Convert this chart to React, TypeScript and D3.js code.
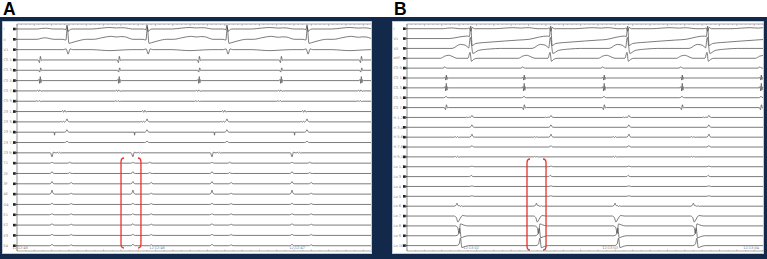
import React from "react";
import * as d3 from "d3";

// ---------------- DATA ----------------
// Channel labels
const A_LABELS = ["I", "II", "V1", "CS 1,2", "CS 3,4", "CS 5,6", "CS 7,8", "CS 9,10", "23 1,2", "23 3,4", "23 5,6", "23 7,8", "23 9,10", "T1", "2E", "3F", "4E", "D4", "E1", "E2", "E3", "E4"];
const B_LABELS = ["I", "V1", "V5", "aVF", "CS 9,10", "CS 1,2", "CS 3,4", "CS 5,6", "CS 7,8", "H 1,2", "H 3,4", "H 5,6", "H 7,8", "H 9,10", "Lo 1,2", "Lo 3", "Lo 4", "Lo 5", "Lo 6", "Lo 7", "Lo 8", "Lo 9", "Lo 10"];

// Event times (ms from start of window)
const A_QRS = [361, 939, 1516, 2094];
const A_ATRIAL = [166, 736, 1314, 1906, 2484];
const A_FAR = [253, 837, 1408, 1986];
const B_QRS = [454, 1030, 1584, 2160];
const B_ATRIAL = [281, 842, 1418, 1980, 2549];
const B_HIS = [468, 1037, 1598, 2174];
const B_LOCAL = [360, 932, 1498, 2062];

// Time stamps
const A_STAMP_MS = [22, 1011, 2022];
const A_STAMP_TXT = ["12:12:45", "12:12:46", "12:12:47"];
const B_STAMP_MS = [461, 1462, 2477];
const B_STAMP_TXT = ["12:13:02", "12:13:03", "12:13:04"];

// Highlighted windows (ms) [start, end]
const A_HIGHLIGHT = [751, 895];
const B_HIGHLIGHT = [864, 1001];

// Waveform templates: [offset ms, mV]
const TPL_QRS_I_A = [[-30, 0], [-8, -0.1], [0, 0.8], [8, -0.5], [18, -0.2], [35, 0]];
const TPL_QRS_II_A = [[-30, 0], [-8, -0.15], [2, 2.4], [14, -0.8], [30, -0.7], [80, -0.3], [140, 0]];
const TPL_QRS_V1_A = [[-25, 0], [-6, 0.15], [8, -0.9], [22, 0.15], [40, 0]];
const TPL_QRS_I_B = [[-20, 0], [-5, 0.15], [5, -0.5], [15, 0.25], [30, 0]];
const TPL_QRS_V1_B = [[-150, 0], [-80, 0.3], [-20, 0.5], [-5, 0.4], [5, 2.5], [15, -1.4], [40, -1.0], [150, -0.7], [350, -0.3], [500, 0]];
const TPL_QRS_V5_B = [[-130, 0], [-70, 0.8], [-30, 0.6], [-10, 0.1], [2, 2.2], [12, 0.4], [20, -1.0], [60, -0.4], [150, -0.1], [220, 0]];
const TPL_QRS_AVF_B = [[-15, 0], [0, 1], [10, -0.5], [25, -0.2], [50, 0]];
const TPL_T = [[0, 0], [70, 0.6], [130, 1], [190, 0.6], [280, 0]];
const TPL_P = [[0, 0], [30, 0.7], [60, 1], [90, 0.5], [120, 0]];
const TPL_ATR_BI = [[-12, 0], [-4, -0.6], [3, 0.8], [10, -0.1], [18, 0]];
const TPL_ATR_SHARP = [[-14, 0], [-7, 0.3], [-2, -0.7], [2, 1], [7, -0.5], [11, 0.2], [18, 0]];
const TPL_WIGGLE = [[-20, 0], [-12, 0.4], [-4, -0.3], [4, 0.5], [12, -0.2], [22, 0]];
const TPL_BUMP = [[-18, 0], [-6, 0.4], [0, 1], [6, 0.3], [18, 0]];
const TPL_VDOWN = [[-12, 0], [0, -1], [10, 0.2], [22, 0]];
const TPL_TICK = [[-3, 0], [0, -1], [3, 0]];
const TPL_RV_A = [[-20, 0], [-5, -0.3], [6, -1.2], [20, -0.6], [40, 0.1], [70, 0]];
const TPL_RV_B = [[-20, 0], [0, -0.3], [10, -1.5], [20, 0.4], [40, 0.2], [70, 0]];
const TPL_RV_C = [[-20, 0], [0, 0.3], [10, 1.5], [20, -0.4], [40, -0.2], [70, 0]];

// ---------------- CHANNEL TABLES (built from the arrays above) ----------------
type Ev = { tpl: number[][]; times: number[]; amp: number; shift?: number };
const ev = (tpl: number[][], times: number[], amp: number, shift = 0): Ev => ({ tpl, times, amp, shift });

const A_CHANNELS: Ev[][] = [
  [ev(TPL_QRS_I_A, A_QRS, 1), ev(TPL_T, A_QRS, 0.3, 180), ev(TPL_P, A_ATRIAL, 0.15, -20)],
  [ev(TPL_QRS_II_A, A_QRS, 1), ev(TPL_T, A_QRS, 0.6, 190), ev(TPL_P, A_ATRIAL, 0.3, -20)],
  [ev(TPL_QRS_V1_A, A_QRS, 1), ev(TPL_T, A_QRS, -0.2, 180)],
  [ev(TPL_ATR_BI, A_ATRIAL, 0.9)],
  [ev(TPL_ATR_BI, A_ATRIAL, 0.6, 2)],
  [ev(TPL_ATR_SHARP, A_ATRIAL, 0.8)],
  [ev(TPL_WIGGLE, A_ATRIAL, 0.4, -5)],
  [ev(TPL_WIGGLE, A_ATRIAL, 0.3, -10)],
  [ev(TPL_WIGGLE, A_QRS, 0.5, -20)],
  [ev(TPL_BUMP, A_QRS, 0.6), ev(TPL_WIGGLE, A_QRS, 0.3, -30)],
  [ev(TPL_TICK, A_QRS, 0.6, -90), ev(TPL_BUMP, A_QRS, 0.5)],
  [ev(TPL_BUMP, A_QRS, 0.3)],
  [ev(TPL_VDOWN, A_FAR, 0.8), ev(TPL_WIGGLE, A_FAR, 0.3, 50)],
  [ev(TPL_BUMP, A_FAR, 0.2), ev(TPL_BUMP, A_QRS, 0.2, 20)],
  [ev(TPL_BUMP, A_FAR, 0.35), ev(TPL_BUMP, A_QRS, 0.2, 20)],
  [ev(TPL_BUMP, A_FAR, 0.45), ev(TPL_BUMP, A_QRS, 0.3, 30)],
  [ev(TPL_BUMP, A_FAR, 0.8), ev(TPL_BUMP, A_QRS, 0.2, 30)],
  [ev(TPL_BUMP, A_FAR, 0.25), ev(TPL_BUMP, A_QRS, 0.2, 30)],
  [ev(TPL_BUMP, A_FAR, 0.25), ev(TPL_BUMP, A_QRS, 0.2, 30)],
  [ev(TPL_BUMP, A_FAR, 0.3), ev(TPL_BUMP, A_QRS, 0.2, 30)],
  [ev(TPL_BUMP, A_FAR, 0.25), ev(TPL_BUMP, A_QRS, 0.2, 30)],
  [ev(TPL_BUMP, A_FAR, 0.3), ev(TPL_BUMP, A_QRS, 0.2, 30)],
];

const B_CHANNELS: Ev[][] = [
  [ev(TPL_QRS_I_B, B_QRS, 1), ev(TPL_T, B_QRS, 0.2, 180), ev(TPL_P, B_ATRIAL, 0.15, -20)],
  [ev(TPL_QRS_V1_B, B_QRS, 1)],
  [ev(TPL_QRS_V5_B, B_QRS, 1)],
  [ev(TPL_QRS_AVF_B, B_QRS, 1.2), ev(TPL_P, B_ATRIAL, 0.6, -40)],
  [ev(TPL_BUMP, B_ATRIAL, 0.3, -8)],
  [ev(TPL_ATR_SHARP, B_ATRIAL, 0.6)],
  [ev(TPL_ATR_SHARP, B_ATRIAL, 0.9)],
  [ev(TPL_BUMP, B_ATRIAL, 0.3)],
  [ev(TPL_ATR_BI, B_ATRIAL, 0.7)],
  [ev(TPL_BUMP, B_HIS, 0.4), ev(TPL_WIGGLE, B_HIS, 0.2, -25)],
  [ev(TPL_BUMP, B_HIS, 0.5)],
  [ev(TPL_WIGGLE, B_LOCAL, 0.25), ev(TPL_BUMP, B_HIS, 0.6)],
  [ev(TPL_BUMP, B_HIS, 0.3)],
  [ev(TPL_WIGGLE, B_LOCAL, 0.25)],
  [ev(TPL_BUMP, B_HIS, 0.15)],
  [ev(TPL_BUMP, B_HIS, 0.25, -5)],
  [ev(TPL_BUMP, B_HIS, 0.15)],
  [ev(TPL_BUMP, B_HIS, 0.15)],
  [ev(TPL_BUMP, B_LOCAL, 0.6), ev(TPL_WIGGLE, B_LOCAL, 0.2, 30)],
  [ev(TPL_RV_A, B_LOCAL, 1)],
  [ev(TPL_RV_B, B_LOCAL, 1, 5)],
  [ev(TPL_RV_C, B_LOCAL, 1, 10)],
  [ev(TPL_RV_C, B_LOCAL, 1, 15)],
];

// ---------------- RENDERING ----------------
const W = 767;
const H = 259;
const NAVY = "#13294b";
const TRACE = "#444";
const RED = "#e8322b";
const MS_PER_PX_A = 7.22;
const MS_PER_PX_B = 7.2;

function evalTpl(tpl: number[][], dt: number): number {
  if (dt <= tpl[0][0] || dt >= tpl[tpl.length - 1][0]) return 0;
  for (let i = 1; i < tpl.length; i++) {
    if (dt <= tpl[i][0]) {
      const [x0, y0] = tpl[i - 1];
      const [x1, y1] = tpl[i];
      return y0 + ((y1 - y0) * (dt - x0)) / (x1 - x0);
    }
  }
  return 0;
}

function tracePoints(events: Ev[], t0: number, t1: number): [number, number][] {
  const ts = new Set<number>([t0, t1]);
  events.forEach((e) =>
    e.times.forEach((t) =>
      e.tpl.forEach(([dt]) => {
        const x = t + (e.shift || 0) + dt;
        if (x > t0 && x < t1) ts.add(x);
      })
    )
  );
  const sorted = Array.from(ts).sort((a, b) => a - b);
  return sorted.map((t) => [
    t,
    events.reduce(
      (s, e) => s + e.times.reduce((s2, te) => s2 + e.amp * evalTpl(e.tpl, t - te - (e.shift || 0)), 0),
      0
    ),
  ]);
}

type PanelProps = {
  letter: string;
  letterX: number;
  boxX: number;
  boxW: number;
  plotX0: number;
  plotX1: number;
  msPerPx: number;
  rowY0: number;
  rowStep: number;
  labels: string[];
  channels: Ev[][];
  stampMs: number[];
  stampTxt: string[];
  highlight: number[];
  hlY0: number;
  hlY1: number;
};

function Panel(p: PanelProps) {
  const tMax = (p.plotX1 - p.plotX0) * p.msPerPx;
  const x = d3.scaleLinear().domain([0, tMax]).range([p.plotX0, p.plotX1]);
  const gain = d3.scaleLinear().domain([0, 1]).range([0, -5]);
  const top = 21;
  const bottom = 254;
  const rulerTop = 24;
  const rulerBot = 251;
  const minorTop = d3.range(0, tMax, 1000 / 32);
  const minorBot = d3.range(0, tMax, 1000 / 16);

  const line = d3
    .line<[number, number]>()
    .x((d) => x(d[0]))
    .curve(d3.curveMonotoneX);

  const hx0 = x(p.highlight[0]);
  const hx1 = x(p.highlight[1]);
  const r = 3;
  const leftBr = `M${hx0 + r},${p.hlY0} Q${hx0},${p.hlY0} ${hx0},${p.hlY0 + r + 1} L${hx0},${p.hlY1 - r - 1} Q${hx0},${p.hlY1} ${hx0 + r},${p.hlY1}`;
  const rightBr = `M${hx1 - r},${p.hlY0} Q${hx1},${p.hlY0} ${hx1},${p.hlY0 + r + 1} L${hx1},${p.hlY1 - r - 1} Q${hx1},${p.hlY1} ${hx1 - r},${p.hlY1}`;

  return (
    <g>
      <text x={p.letterX} y={15} fontFamily="Liberation Sans, Arial, sans-serif" fontWeight="bold" fontSize={17.5} fill="#000">
        {p.letter}
      </text>
      <rect x={p.boxX} y={top} width={p.boxW} height={bottom - top} fill="#fff" />
      <rect x={p.boxX + 0.5} y={top + 0.5} width={p.boxW - 1} height={bottom - top - 1} fill="none" stroke="#b8bec6" strokeWidth={0.8} />
      {/* left axis */}
      <line x1={p.plotX0} x2={p.plotX0} y1={rulerTop} y2={rulerBot} stroke="#777" strokeWidth={0.8} />
      {/* top ruler */}
      <line x1={p.plotX0} x2={p.plotX1} y1={rulerTop} y2={rulerTop} stroke="#888" strokeWidth={0.7} />
      {minorTop.map((t, i) => (
        <line key={"tt" + i} x1={x(t)} x2={x(t)} y1={rulerTop} y2={rulerTop + (i % 4 === 0 ? 2 : 1)} stroke="#888" strokeWidth={0.5} />
      ))}
      {/* bottom ruler */}
      <line x1={p.plotX0} x2={p.plotX1} y1={rulerBot} y2={rulerBot} stroke="#888" strokeWidth={0.7} />
      {minorBot.map((t, i) => (
        <line key={"bt" + i} x1={x(t)} x2={x(t)} y1={rulerBot} y2={rulerBot - (i % 2 === 0 ? 1.5 : 1)} stroke="#888" strokeWidth={0.5} />
      ))}
      {p.stampMs.map((t, i) => (
        <text key={"st" + i} x={x(t)} y={rulerBot - 2.5} textAnchor="middle" fontSize={3.5} fill="#777" fontFamily="DejaVu Sans, sans-serif">
          {p.stampTxt[i]}
        </text>
      ))}
      {/* channels */}
      {p.channels.map((evs, i) => {
        const yRow = p.rowY0 + i * p.rowStep;
        const pts = tracePoints(evs, 0, tMax);
        const path = line.y((d) => yRow + gain(d[1]))(pts) || "";
        return (
          <g key={"ch" + i}>
            <text x={p.boxX + 1.5} y={yRow + 1.2} fontSize={3.6} fill="#888" fontFamily="DejaVu Sans, sans-serif">
              {p.labels[i]}
            </text>
            <rect x={p.plotX0 - 4} y={yRow - 1.3} width={2.6} height={2.6} fill="#222" />
            <path d={`M${p.plotX0 - 1.4},${yRow - 1.3} L${p.plotX0},${yRow} L${p.plotX0 - 1.4},${yRow + 1.3}Z`} fill="#222" />
            <path d={path} fill="none" stroke={TRACE} strokeWidth={0.7} />
          </g>
        );
      })}
      <path d={leftBr} fill="none" stroke={RED} strokeWidth={1.3} />
      <path d={rightBr} fill="none" stroke={RED} strokeWidth={1.3} />
    </g>
  );
}

export default function App() {
  return (
    <svg
      width={W}
      height={H}
      viewBox={`0 0 ${W} ${H}`}
      style={{ position: "absolute", left: 0, top: 0, background: "#fff" }}
    >
      <rect x={0} y={0} width={W} height={H} fill="#fff" />
      <rect x={0} y={17} width={W} height={H - 17} fill={NAVY} />
      <Panel
        letter="A"
        letterX={3}
        boxX={2}
        boxW={370}
        plotX0={17}
        plotX1={371}
        msPerPx={MS_PER_PX_A}
        rowY0={29}
        rowStep={10.32}
        labels={A_LABELS}
        channels={A_CHANNELS}
        stampMs={A_STAMP_MS}
        stampTxt={A_STAMP_TXT}
        highlight={A_HIGHLIGHT}
        hlY0={158}
        hlY1={248}
      />
      <Panel
        letter="B"
        letterX={394}
        boxX={392}
        boxW={372}
        plotX0={407}
        plotX1={763}
        msPerPx={MS_PER_PX_B}
        rowY0={28.7}
        rowStep={9.86}
        labels={B_LABELS}
        channels={B_CHANNELS}
        stampMs={B_STAMP_MS}
        stampTxt={B_STAMP_TXT}
        highlight={B_HIGHLIGHT}
        hlY0={159}
        hlY1={250}
      />
    </svg>
  );
}
